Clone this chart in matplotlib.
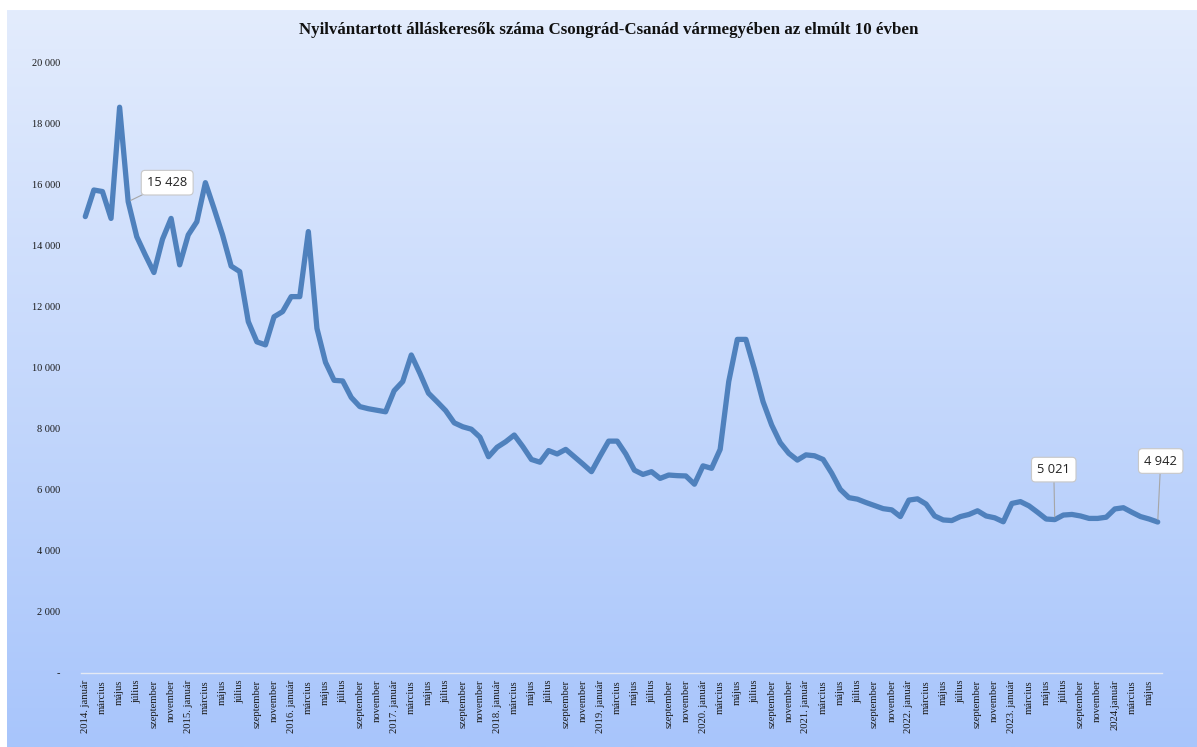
import numpy as np
import matplotlib.pyplot as plt
from matplotlib.colors import LinearSegmentedColormap

# havi adatok 2014. január - 2024. június
years = list(range(2014, 2025))
month_names = ['január', 'február', 'március', 'április', 'május', 'június',
               'július', 'augusztus', 'szeptember', 'október', 'november', 'december']

values = [
    14940, 15810, 15760, 14880, 18520, 15428, 14280, 13680, 13110, 14200, 14880, 13360,
    14340, 14770, 16050, 15210, 14340, 13320, 13140, 11500, 10840, 10740, 11660, 11830,
    12320, 12320, 14450, 11280, 10170, 9580, 9560, 9020, 8720, 8650, 8600, 8550,
    9240, 9540, 10410, 9810, 9160, 8880, 8590, 8190, 8060, 7980, 7720, 7080,
    7390, 7570, 7790, 7410, 6990, 6900, 7280, 7170, 7320, 7080, 6840, 6590,
    7100, 7590, 7590, 7170, 6640, 6500, 6590, 6370, 6480, 6460, 6450, 6180,
    6780, 6700, 7320, 9540, 10920, 10920, 9940, 8880, 8120, 7540, 7190, 6970,
    7140, 7110, 6990, 6540, 6010, 5740, 5690, 5580, 5480, 5380, 5340, 5120,
    5660, 5700, 5530, 5140, 5010, 4990, 5120, 5190, 5310, 5140, 5080, 4950,
    5550, 5610, 5470, 5260, 5040, 5021, 5170, 5190, 5140, 5060, 5060, 5100,
    5370, 5410, 5260, 5120, 5040, 4942,
]

# feliratozott pontok (index a sorozatban) és a címke eltolása pixelben
labelled = [5, 113, 125]
label_offsets = [(39, 19), (-1, 50), (3, 61)]

y_ticks = [0, 2000, 4000, 6000, 8000, 10000, 12000, 14000, 16000, 18000, 20000]

title = 'Nyilvántartott álláskeresők száma Csongrád-Csanád vármegyében az elmúlt 10 évben'


def tick_label(i):
    year = years[0] + i // 12
    m = i % 12
    if m == 0:
        return '2024.január' if year == 2024 else '{}. január'.format(year)
    return month_names[m]


def fmt(v):
    return '{:,}'.format(v).replace(',', ' ')


W, H = 1197, 747
fig = plt.figure(figsize=(W / 100, H / 100), dpi=100)
fig.patch.set_facecolor('white')

# háttér színátmenet
bg = fig.add_axes([7 / W, 0, 1 - 7 / W, 1 - 10 / H], zorder=0)
cmap = LinearSegmentedColormap.from_list('bg', ['#e3ecfd', '#a8c5fb'])
grad = np.linspace(0, 1, 256).reshape(-1, 1)
bg.imshow(grad, aspect='auto', cmap=cmap, extent=[0, 1, 0, 1], origin='upper')
bg.set_axis_off()

ax = fig.add_axes([81 / W, 1 - 673 / H, (1162 - 81) / W, (673 - 62) / H], zorder=1)
ax.patch.set_alpha(0)

x = np.arange(len(values))
ax.plot(x, values, color='#4f81bd', lw=3.8, solid_joinstyle='round', solid_capstyle='round', zorder=3)

ax.set_xlim(-0.5, len(values) - 0.5)
ax.set_ylim(0, 20000)

for s in ['top', 'right', 'left']:
    ax.spines[s].set_visible(False)
ax.spines['bottom'].set_color('#e4e9f4')
ax.spines['bottom'].set_linewidth(1.0)

ax.set_yticks(y_ticks)
ax.set_yticklabels(['-' if v == 0 else fmt(v) for v in y_ticks],
                   fontfamily='Liberation Serif', fontsize=7.5, color='#1a1a1a')
ax.tick_params(axis='y', length=0, pad=15)

tick_pos = list(range(0, len(values), 2))
ax.set_xticks(tick_pos)
ax.set_xticklabels([tick_label(i) for i in tick_pos], rotation=90,
                   fontfamily='Liberation Serif', fontsize=7.7, color='#1a1a1a')
ax.tick_params(axis='x', length=0, pad=5)

for idx, off in zip(labelled, label_offsets):
    ax.annotate(fmt(values[idx]), xy=(idx, values[idx]), xytext=off,
                textcoords='offset pixels', ha='center', va='center',
                fontfamily='Open Sans', fontsize=9.3, color='#222222',
                bbox=dict(boxstyle='round,pad=0.45,rounding_size=0.3',
                          fc='white', ec='#c8c8c8', lw=0.8),
                arrowprops=dict(arrowstyle='-', color='#a6a6a6', lw=0.8,
                                shrinkA=0, shrinkB=2),
                zorder=5)

fig.text(609 / W, 1 - 30 / H, title, ha='center', va='center',
         fontfamily='Liberation Serif', fontweight='bold', fontsize=12.2, color='#111111')

fig.savefig('out.png', dpi=100)
